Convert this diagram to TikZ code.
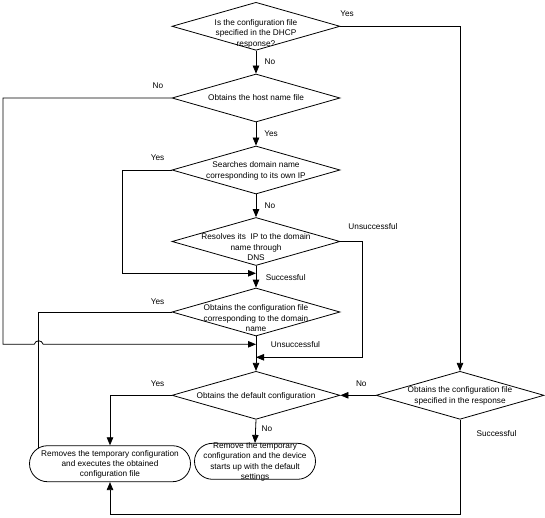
\documentclass[tikz,border=0pt]{standalone}
\usepackage{fontspec}
\setmainfont{Liberation Sans}
\usetikzlibrary{shapes.geometric,arrows.meta}
\newcommand{\dtext}[2][2.8pt]{\makebox[0pt]{\smash{\raisebox{-#1}{\begin{tabular}{@{}c@{}}#2\end{tabular}}}}}
\begin{document}
\begin{tikzpicture}[x=1pt,y=-1pt,
  every node/.style={font=\fontsize{8.25}{10.4}\selectfont},
  dia/.style={shape=diamond,draw,line width=0.8pt,minimum width=168pt,minimum height=48pt,inner sep=0pt},
  rbox/.style={shape=rectangle,draw,line width=0.8pt,rounded corners=18pt,minimum height=36pt,inner sep=0pt},
  lbl/.style={inner sep=0pt},
  arr/.style={line width=0.8pt,-{Triangle[length=8pt,width=6.5pt]}},
  ln/.style={line width=0.8pt}]
\useasboundingbox (0,0) rectangle (545,518);
\node[dia] (d1) at (256,26.3) {\dtext[9.5pt]{Is the configuration file\\specified in the DHCP\\response?}};
\node[dia] (d2) at (256,98) {\dtext{Obtains the host name file}};
\node[dia] (d3) at (256,170) {\dtext{Searches domain name\\corresponding to its own IP}};
\node[dia] (d4) at (256,241.5) {\dtext[8.5pt]{Resolves its~ IP to the domain\\name through\\DNS}};
\node[dia] (d5) at (256,312) {\dtext[9pt]{Obtains the configuration file\\corresponding to the domain\\name}};
\node[dia] (d6) at (256,395.3) {\dtext{Obtains the default configuration}};
\node[dia] (d7) at (460,395.3) {\dtext{Obtains the configuration file\\specified in the response}};
\node[rbox,minimum width=161pt] (b1) at (110,463.7) {\dtext{Removes the temporary configuration\\and executes the obtained\\configuration file}};
\node[rbox,minimum width=121pt] (b2) at (255,461.3) {\dtext{Remove the temporary\\configuration and the device\\starts up with the default\\settings}};
\coordinate (j1) at (256,344.3);
\coordinate (s1) at (256,273.3);
\coordinate (u1) at (256,357.3);
\coordinate (y5) at (38.7,447.9);
% connectors
\draw[arr] (d1.east) -| (d7.north);
\draw[arr] (d1.south) -- (d2.north);
\draw[arr] (d2.west) -- (3,98) -- (3,344.3) -- (34.2,344.3) .. controls (35.6,339.6) and (41.8,339.6) .. (43.2,344.3) -- (j1);
\draw[arr] (d2.south) -- (d3.north);
\draw[arr] (d3.west) -- (122,170) |- (s1);
\draw[arr] (d3.south) -- (d4.north);
\draw[arr] (d4.south) -- (d5.north);
\draw[arr] (d4.east) -- (362.4,241.5) |- (u1);
\draw[arr] (d5.south) -- (d6.north);
\draw[ln] (d5.west) -| (y5);
\draw[arr] (d6.west) -| (b1.north);
\draw[arr] (d6.south) -- (b2.north);
\draw[arr] (d7.west) -- (d6.east);
\draw[arr] (d7.south) -- (460,514.3) -| (b1.south);
% labels
\node[lbl] (l1) at (347,14) {Yes};
\node[lbl] (l2) at (270,62) {No};
\node[lbl] (l3) at (158,86) {No};
\node[lbl] (l4) at (271,134) {Yes};
\node[lbl] (l5) at (157.5,158) {Yes};
\node[lbl] (l6) at (270,206) {No};
\node[lbl] (l7) at (373,227) {Unsuccessful};
\node[lbl] (l8) at (285.7,277.3) {Successful};
\node[lbl] (l9) at (157.5,301.7) {Yes};
\node[lbl] (l10) at (295.5,344.5) {Unsuccessful};
\node[lbl] (l11) at (157.5,383.3) {Yes};
\node[lbl] (l12) at (361.3,383.3) {No};
\node[lbl] (l13) at (267,428.7) {No};
\node[lbl] (l14) at (496.5,433.3) {Successful};
\end{tikzpicture}
\end{document}
